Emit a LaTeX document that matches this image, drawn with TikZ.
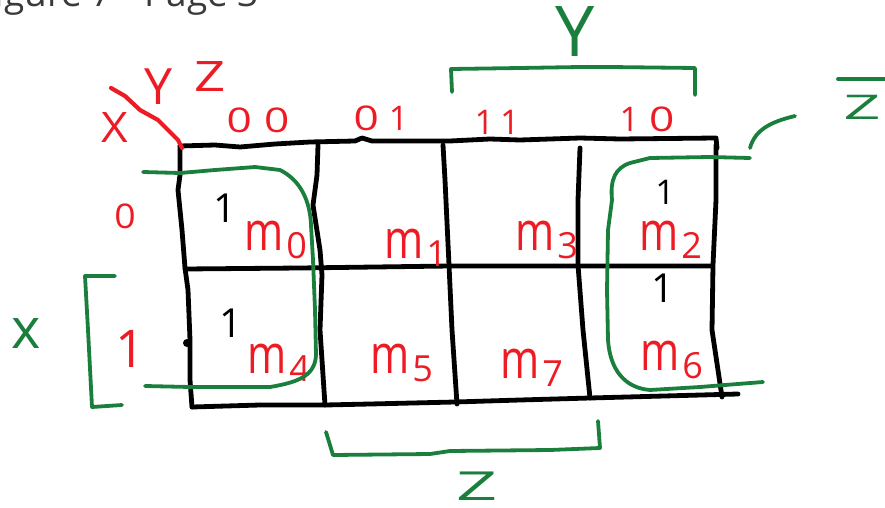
\documentclass[tikz,border=0pt]{standalone}
\usepackage{fontspec}
\setmainfont{Open Sans}
\definecolor{inkred}{HTML}{ED1C24}
\definecolor{inkgreen}{HTML}{1A7F3C}
\definecolor{capgray}{HTML}{3A3A3A}
% minterm name: a narrow tall m with a lowered index digit
\newcommand\mterm[1]{\scalebox{0.78}[1]{\fontsize{54}{54}\selectfont m}\kern3pt\raisebox{-8pt}{\fontsize{36}{36}\selectfont #1}}
% wide hand-drawn looking letters
\newcommand\widen[2]{\scalebox{#1}[1]{#2}}
\tikzset{
  gridline/.style={black, line width=4.8pt, line cap=round, line join=round},
  loopline/.style={inkgreen, line width=3.8pt, line cap=round, line join=round},
  redline/.style={inkred, line width=4.2pt, line cap=round, line join=round},
  redtxt/.style={inkred, inner sep=0pt, font=\fontsize{42}{42}\selectfont},
  bittxt/.style={inkred, inner sep=0pt, font=\fontsize{34}{34}\selectfont},
  greentxt/.style={inkgreen, inner sep=0pt, text depth=0pt, font=\fontsize{40}{40}\selectfont},
  onetxt/.style={black, inner sep=0pt, anchor=base, text depth=0pt, font=\fontsize{40}{40}\selectfont},
  mlab/.style={inkred, inner sep=0pt, anchor=base west},
}
\begin{document}
\begin{tikzpicture}[x=1pt, y=-1pt]
\useasboundingbox (0,0) rectangle (885,508);
\clip (0,0) rectangle (885,508);

% caption line cut by the page edge
\node[capgray, inner sep=0pt, anchor=base east, font=\fontsize{37}{37}\selectfont] (caption) at (259,7) {Figure 7 - Page 3};

% ---- K-map grid ----
\draw[gridline] (180,146) -- (215,145) -- (240,147) -- (275,144) -- (310,142) -- (355,141) -- (362,138) -- (372,141) -- (450,141) -- (490,139) -- (520,140) -- (580,138) -- (620,139) -- (716,138) -- (717,148);
\draw[gridline] (180,146) -- (180,175) -- (178,190) -- (182,230) -- (185,268) -- (188,290) -- (190,340) -- (190,380) -- (192,407);
\draw[gridline] (318,145) -- (317,175) -- (313,205) -- (320,250) -- (322,275) -- (320,330) -- (325,405);
\draw[gridline] (443,145) -- (445,180) -- (449,265) -- (452,330) -- (457,404);
\draw[gridline] (580,148) -- (578,200) -- (578,265) -- (583,330) -- (590,398);
\draw[gridline] (716,145) -- (716,200) -- (713,265) -- (712,330) -- (722,397);
\draw[gridline] (185,269) -- (300,268) -- (450,266) -- (580,266) -- (712,266);
\draw[gridline] (192,407) -- (260,405) -- (325,405) -- (370,404) -- (455,402) -- (520,400) -- (590,398) -- (738,394);
\fill[black] (187,343) circle (4pt);

% ---- corner label ----
\draw[redline] (111,88) -- (125,96) -- (140,110) -- (158,120) -- (170,132) -- (178,140) -- (182,148);
\node[redtxt] (lx) at (115,128) {\widen{1.1}{X}};
\node[redtxt, font=\fontsize{50}{50}\selectfont] (ly) at (158,87) {Y};
\node[redtxt] (lz) at (210,77) {\widen{1.3}{Z}};

% ---- column and row codes ----
\node[bittxt] (c00) at (258,120) {\widen{1.3}{0}\kern12pt\widen{1.3}{0}};
\node[bittxt] (c01) at (381,118) {\widen{1.3}{0}\kern10pt1};
\node[bittxt] (c11) at (497,122) {1\kern6pt1};
\node[bittxt] (c10) at (647,119) {1\kern10pt\widen{1.3}{0}};
\node[bittxt] (r0) at (125,216) {\widen{1.1}{0}};
\node[bittxt, font=\fontsize{52}{52}\selectfont] (r1) at (130,349) {1};

% ---- cell values ----
\node[onetxt] (v0) at (225,222) {1};
\node[onetxt] (v4) at (231,337) {1};
\node[onetxt, font=\fontsize{34}{34}\selectfont] (v2) at (665,204) {1};
\node[onetxt] (v6) at (663,302) {1};

% ---- minterm names ----
\node[mlab] (m0) at (244,250) {\mterm{0}};
\node[mlab] (m1) at (384,258) {\mterm{1}};
\node[mlab] (m3) at (515,250) {\mterm{3}};
\node[mlab] (m2) at (639,250) {\mterm{2}};
\node[mlab] (m4) at (247,373) {\mterm{4}};
\node[mlab] (m5) at (370,373) {\mterm{5}};
\node[mlab] (m7) at (500,378) {\mterm{7}};
\node[mlab] (m6) at (640,370) {\mterm{6}};

% ---- groupings ----
\draw[loopline] (143,172) -- (180,173) -- (215,170) -- (255,167) -- (280,170)
  .. controls (300,180) and (310,200) .. (311,225) -- (313,260) -- (315,310) -- (316,355)
  .. controls (315,375) and (300,382) .. (270,387) -- (190,387) -- (145,386);
\draw[loopline] (750,158) -- (710,157) -- (650,158) -- (630,163)
  .. controls (615,168) and (610,180) .. (612,200) -- (608,230) -- (607,290) -- (608,340)
  .. controls (610,370) and (625,388) .. (650,390) -- (700,387) -- (725,385) -- (763,382);
\draw[loopline] (750,148) .. controls (755,130) and (770,122) .. (795,116);

% ---- brackets and variable names ----
\draw[loopline] (452,92) -- (451,69) -- (520,68) -- (580,67) -- (610,67) -- (695,68) -- (695,95);
\node[greentxt, anchor=base, font=\fontsize{70}{70}\selectfont] (gy) at (575,57) {Y};
\draw[loopline] (115,276) -- (85,276) -- (88,330) -- (92,407) -- (122,405);
\node[greentxt, anchor=base, font=\fontsize{56}{56}\selectfont] (gx) at (26,348) {x};
\draw[loopline] (326,432) -- (333,455) -- (430,454) -- (450,451) -- (550,450) -- (600,448) -- (598,421);
\node[greentxt, anchor=base] (gz) at (477,500) {\widen{1.8}{Z}};
\node[greentxt, anchor=base, font=\fontsize{34}{34}\selectfont] (gzbar) at (862,119) {\widen{1.9}{Z}};
\draw[loopline] (838,79) -- (885,79);
\end{tikzpicture}
\end{document}
